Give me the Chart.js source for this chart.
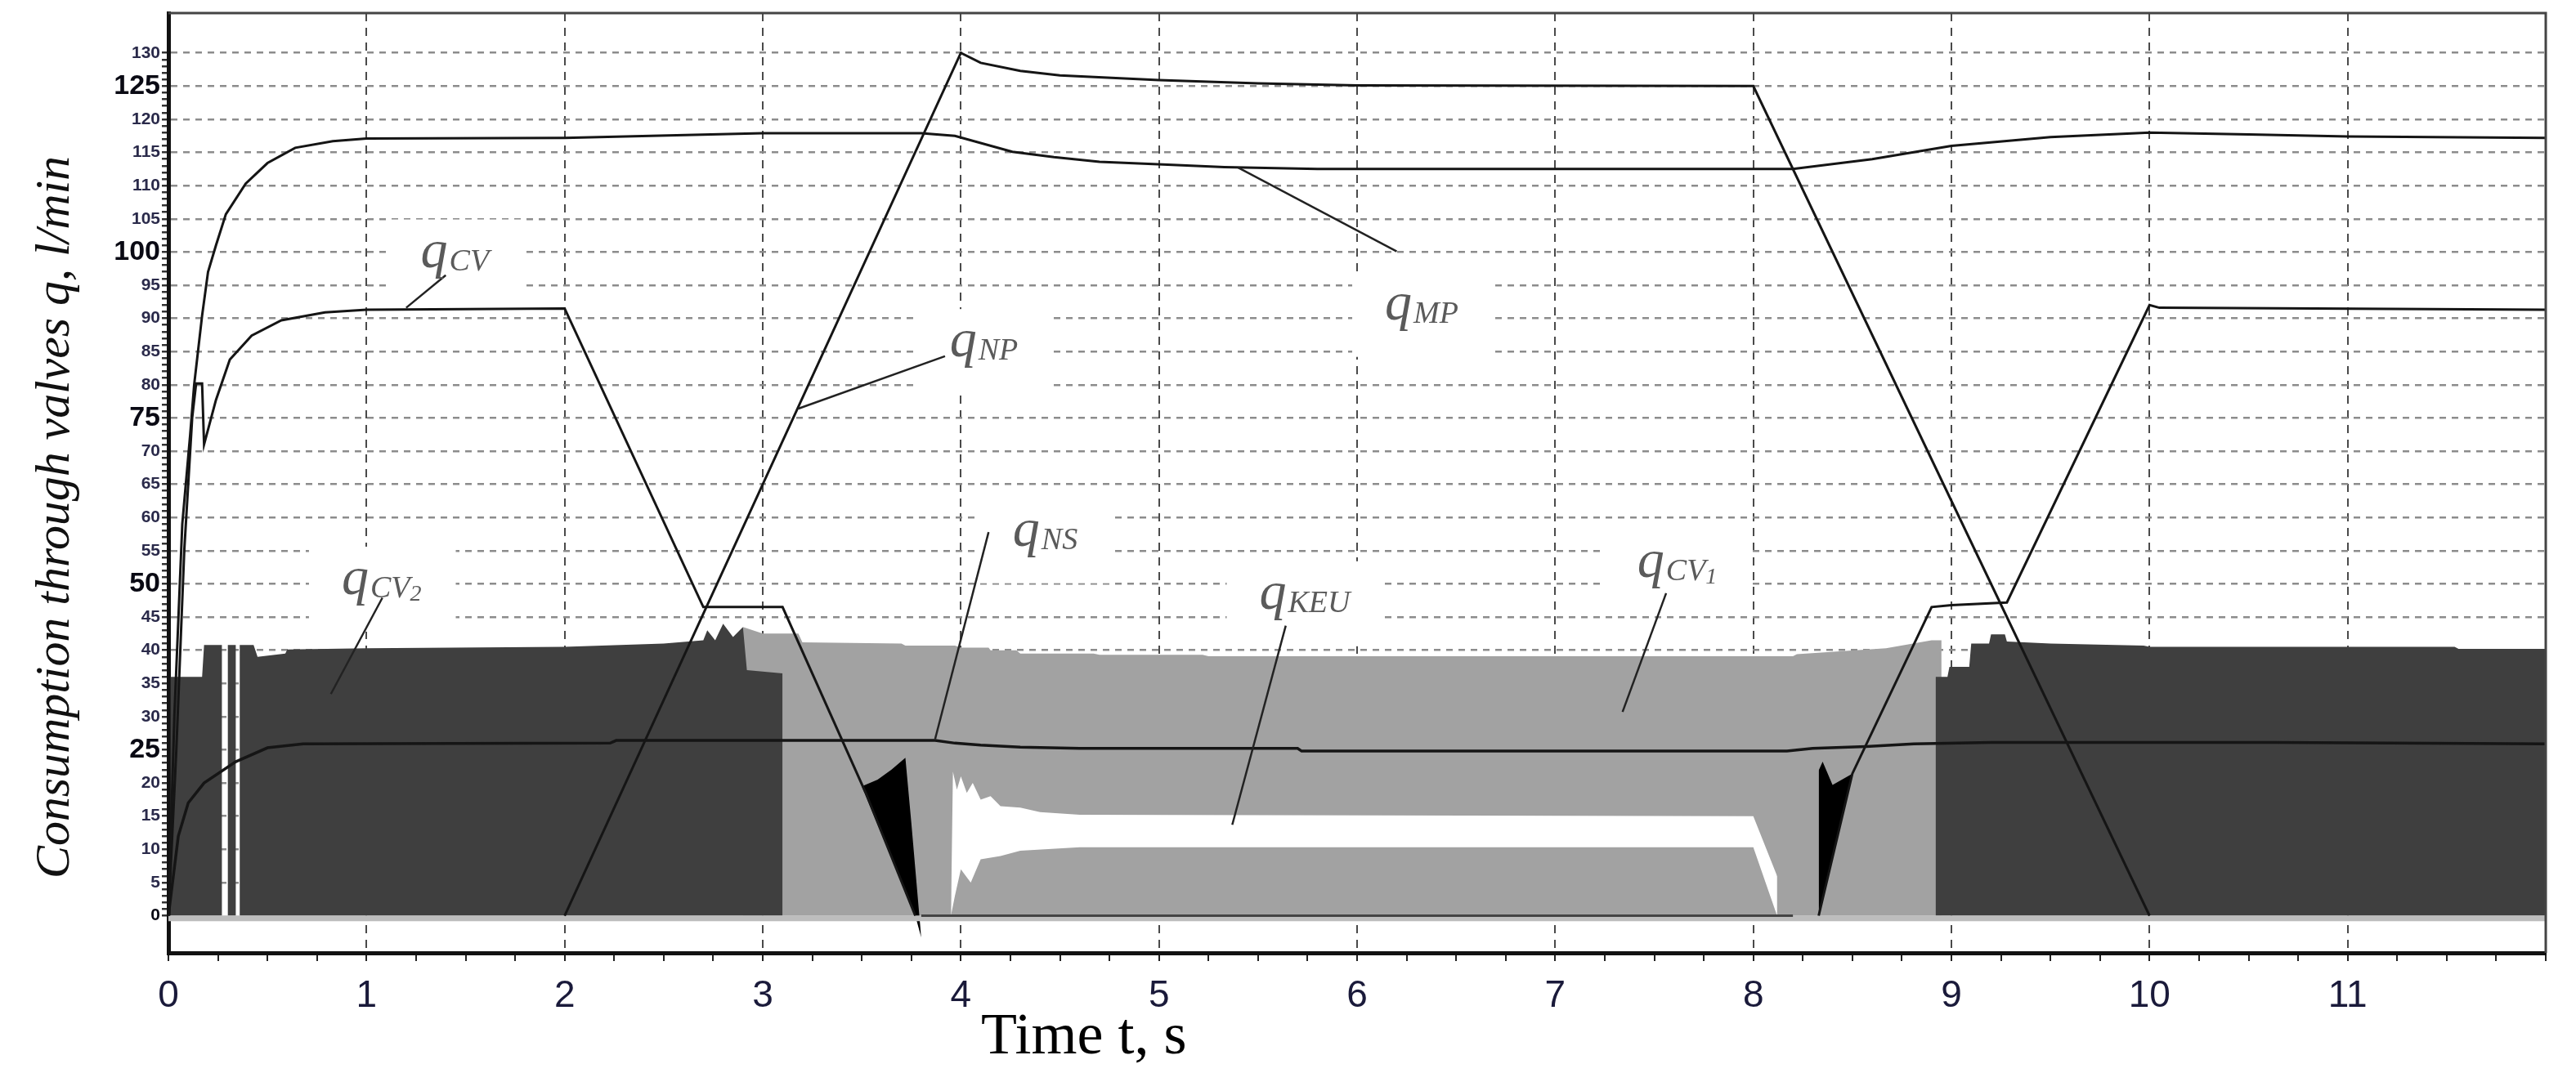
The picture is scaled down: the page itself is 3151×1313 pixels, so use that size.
<!DOCTYPE html>
<html><head><meta charset="utf-8">
<script src="https://cdn.jsdelivr.net/npm/chart.js@4"></script>
<style>html,body{margin:0;padding:0;background:#fff}canvas{display:block}</style>
</head><body>
<canvas id="c" width="3151" height="1313" style="width:3151px;height:1313px"></canvas>
<script>
// ---- data (time t, s ; flow q, l/min) ----
const mpT = [0,0.03,0.07,0.11,0.13,0.17,0.2,0.24,0.29,0.39,0.5,0.64,0.83,1.0,2.0,3.0,3.8,3.97,4.26,4.47,4.7,5.02,5.33,5.8,8.2,8.6,9.0,9.5,10.0,10.5,11.0,12];
const mpQ = [0,30,59,72.5,80,90.4,97,101,105.7,110.3,113.4,115.7,116.7,117.1,117.2,117.9,117.9,117.5,115.1,114.3,113.6,113.2,112.8,112.5,112.5,114,116,117.3,118,117.7,117.4,117.2];
const cvT = [0,0.04,0.08,0.12,0.14,0.17,0.18,0.24,0.31,0.42,0.57,0.79,1.0,2.0,2.7,3.1,3.52,3.77,6,8.33,8.5,8.9,9.0,9.28,10.0,10.05,12];
const cvQ = [0,25,55,75,80.2,80.2,71,77.7,83.8,87.4,89.7,90.9,91.3,91.5,46.5,46.5,18.5,0,null,0,21.4,46.5,46.8,47.2,92,91.6,91.3];
const npT = [2,4,4.1,4.3,4.5,5,5.5,6,8,10];
const npQ = [0,130,128.5,127.3,126.6,125.9,125.4,125.1,125,0];
const nsT = [0,0.05,0.1,0.18,0.34,0.5,0.68,2.23,2.26,3.87,3.97,4.1,4.3,4.6,5.7,5.72,8.17,8.3,8.57,8.81,9.2,10.63,12];
const nsQ = [0,12,17,20,23.2,25.3,25.9,26.0,26.4,26.4,26.0,25.7,25.4,25.2,25.2,24.8,24.8,25.2,25.5,25.9,26.1,26.1,25.9];
const cv2aT = [0.01,0.01,0.17,0.18,0.27,0.27,0.30,0.30,0.34,0.34,0.36,0.36,0.43,0.45,0.59,0.6,1.0,2.0,2.5,2.7,2.72,2.76,2.8,2.85,2.9,2.92,3.1,3.1];
const cv2aQ = [0,36,36,40.8,40.8,0,0,40.8,40.8,0,0,40.8,40.8,39,39.5,40.1,40.3,40.5,41,41.5,43,41.5,44,42,43.5,37,36.5,0];
const cv2bT = [8.92,8.92,8.98,8.99,9.09,9.1,9.19,9.2,9.27,9.28,9.5,9.97,10,11.54,11.56,12];
const cv2bQ = [0,36,36,37.5,37.5,41,41,42.4,42.4,41.3,41,40.7,40.5,40.5,40.2,40.2];
const cv1T = [2.9,2.9,3.0,3.18,3.2,3.7,3.72,3.97,4.0,4.14,4.15,4.28,4.3,4.67,4.7,5.22,5.25,8.2,8.22,8.67,8.9,8.95,8.95];
const cv1Q = [0,43.5,42.5,42.5,41.2,41,40.7,40.7,40.4,40.4,40,40,39.5,39.5,39.3,39.3,39.1,39.1,39.4,40.3,41.5,41.5,0];
const keuTopT = [3.95,3.96,3.98,4.0,4.03,4.06,4.1,4.15,4.2,4.3,4.4,4.6,8.0,8.2];
const keuTopQ = [0,21.7,19,21,18.5,20,17.5,18,16.5,16.3,15.6,15.2,15,0];
const keuBotT = [3.95,3.97,4.0,4.05,4.1,4.2,4.3,4.6,8.0,8.12];
const keuBotQ = [0,3,7,5,8.5,9,9.8,10.3,10.3,0];
const blkATopT = [3.5,3.58,3.65,3.72,3.75,3.8];
const blkATopQ = [19.5,20.5,22,23.8,14,-3.3];
const blkABotT = [3.5,3.77,3.8];
const blkABotQ = [19.5,0,-3.3];
const blkBTopT = [8.33,8.33,8.35,8.4,8.5];
const blkBTopQ = [0,21.9,23.2,19.7,21.4];
const blkBBotT = [8.33,8.5];
const blkBBotQ = [0,21.4];
const xTickLabels = ['0','1','2','3','4','5','6','7','8','9','10','11'];

const pts = (t,q) => t.map((x,i)=>({x, y:q[i]}));
const LINE = '#151515';
const base = {pointRadius:0, borderWidth:0, tension:0, spanGaps:false};
const ds = [];
function add(o){ ds.push(Object.assign({}, base, o)); return ds.length-1; }

add({data:pts(cv1T,cv1Q), fill:'origin', backgroundColor:'#a2a2a2', order:20});
add({data:pts(cv2aT,cv2aQ), fill:'origin', backgroundColor:'#3f3f3f', order:19});
add({data:pts(cv2bT,cv2bQ), fill:'origin', backgroundColor:'#3f3f3f', order:19});
const kb = add({data:pts(keuBotT,keuBotQ), order:18});
add({data:pts(keuTopT,keuTopQ), fill:{target:kb}, backgroundColor:'#ffffff', order:17});
const ba = add({data:pts(blkABotT,blkABotQ), order:16});
add({data:pts(blkATopT,blkATopQ), fill:{target:ba}, backgroundColor:'#000', order:15});
const bb = add({data:pts(blkBBotT,blkBBotQ), order:16});
add({data:pts(blkBTopT,blkBTopQ), fill:{target:bb}, backgroundColor:'#000', order:15});
add({data:[{x:0,y:-0.4},{x:12,y:-0.4}], borderWidth:7, borderColor:'#bdbdbd', order:12});
add({data:[{x:3.8,y:0},{x:8.2,y:0}], borderWidth:3, borderColor:'#444', order:11});
add({data:pts(nsT,nsQ), borderWidth:3.5, borderColor:LINE, order:5});
add({data:pts(cvT,cvQ), borderWidth:3, borderColor:LINE, order:4});
add({data:pts(mpT,mpQ), borderWidth:3, borderColor:LINE, order:3});
add({data:pts(npT,npQ), borderWidth:3, borderColor:LINE, order:2});

// annotation labels: [main, sub, subsub, cx, cy, leader x1,y1,x2,y2]
const labels = [
  ['q','CV','',1.45,98.5, 1.40,96.5,1.2,91.6],
  ['q','MP','',6.33,90.6, 6.2,100.1,5.4,112.7],
  ['q','NP','',4.12,85.0, 3.92,84.3,3.18,76.4],
  ['q','NS','',4.43,56.5, 4.14,57.8,3.87,26.6],
  ['q','KEU','',5.74,47.0, 5.64,43.7,5.37,13.7],
  ['q','CV','1',7.62,51.8, 7.56,48.6,7.34,30.7],
  ['q','CV','2',1.08,49.2, 1.08,47.9,0.82,33.4]
];
const QF = 'italic 66px "Liberation Serif", "DejaVu Serif", serif';
const SF = 'italic 38px "Liberation Serif", "DejaVu Serif", serif';
const SSF = 'italic 28px "Liberation Serif", "DejaVu Serif", serif';
function measureLabel(ctx,l){
  ctx.font=QF; const w1=ctx.measureText(l[0]).width;
  ctx.font=SF; const w2=ctx.measureText(l[1]).width;
  ctx.font=SSF; const w3=l[2]?ctx.measureText(l[2]).width:0;
  return {w1,w2,w3,w:w1+w2+w3+4};
}
const annot = {
  id:'annot',
  beforeDatasetsDraw(chart){
    const {ctx,scales:{x,y}}=chart;
    ctx.save(); ctx.fillStyle='#fff';
    labels.forEach(l=>{
      const m=measureLabel(ctx,l); const cx=x.getPixelForValue(l[3]), cy=y.getPixelForValue(l[4]);
      ctx.fillRect(cx-m.w/2-40, cy-52, m.w+80, 104);
    });
    ctx.restore();
  },
  afterDatasetsDraw(chart){
    const {ctx,scales:{x,y}}=chart;
    ctx.save();
    ctx.strokeStyle='#222'; ctx.lineWidth=2.5;
    labels.forEach(l=>{
      ctx.beginPath(); ctx.moveTo(x.getPixelForValue(l[5]),y.getPixelForValue(l[6]));
      ctx.lineTo(x.getPixelForValue(l[7]),y.getPixelForValue(l[8])); ctx.stroke();
    });
    ctx.fillStyle='#5a5a5a'; ctx.textBaseline='alphabetic'; ctx.textAlign='left';
    labels.forEach(l=>{
      const m=measureLabel(ctx,l); const cx=x.getPixelForValue(l[3]), cy=y.getPixelForValue(l[4]);
      let px=cx-m.w/2; const base=cy+6;
      ctx.font=QF; ctx.fillText(l[0],px,base); px+=m.w1+2;
      ctx.font=SF; ctx.fillText(l[1],px,base+4); px+=m.w2;
      if(l[2]){ctx.font=SSF; ctx.fillText(l[2],px,base+8);}
    });
    const a=chart.chartArea;
    ctx.strokeStyle='#444'; ctx.lineWidth=3;
    ctx.beginPath(); ctx.moveTo(a.left,a.top); ctx.lineTo(a.right,a.top); ctx.lineTo(a.right,a.bottom); ctx.stroke();
    ctx.restore();
  },
  afterDraw(chart){
    const ctx=chart.ctx; ctx.save();
    ctx.fillStyle='#000'; ctx.font='72px "Liberation Serif", serif'; ctx.textAlign='left'; ctx.textBaseline='alphabetic';
    ctx.fillText('Time t, s',1200,1289);
    const t='Consumption through valves q, l/min';
    ctx.font='italic 60px "Liberation Serif", serif';
    const w=ctx.measureText(t).width;
    ctx.translate(84,633); ctx.rotate(-Math.PI/2); ctx.scale(884/w,1);
    ctx.textAlign='center'; ctx.textBaseline='alphabetic'; ctx.fillStyle='#111';
    ctx.fillText(t,0,0);
    ctx.restore();
  }
};

const isInt = v => Math.abs(v-Math.round(v))<1e-6;
new Chart(document.getElementById('c'),{
  type:'line',
  data:{datasets:ds},
  options:{
    responsive:false, devicePixelRatio:1, animation:false,
    layout:{padding:{top:16,right:37,left:0,bottom:0}},
    plugins:{legend:{display:false},tooltip:{enabled:false}},
    scales:{
      x:{type:'linear',min:0,max:12,
        afterFit(s){s.height=147;},
        ticks:{stepSize:0.25,autoSkip:false,maxRotation:0,padding:16,color:'#1a1a3a',
          font:{size:46,family:'"Liberation Sans", Arial, sans-serif'},
          callback:(v)=> (isInt(v)&&v>=0&&v<=11)? xTickLabels[Math.round(v)] : ''},
        grid:{color:c=>{const v=c.tick&&c.tick.value; return (isInt(v)&&v>0&&v<12)?'#4a4a4a':'rgba(0,0,0,0)';},
          tickColor:c=>{const v=c.tick&&c.tick.value; return isInt(v*4)?'#222':'rgba(0,0,0,0)';},
          lineWidth:2, tickLength:10},
        border:{color:'#111',width:5,dash:[10,8]}
      },
      y:{type:'linear',min:-5.6,max:136,
        afterFit(s){s.width=206;},
        ticks:{stepSize:1,autoSkip:false,padding:2,
          color:c=>(c.tick.value%25===0)?'#0a0a14':'#2a2a4a',
          font:c=>(c.tick&&c.tick.value%25===0&&c.tick.value>0)?{size:34,weight:'bold',family:'"Liberation Sans", Arial, sans-serif'}:{size:21,weight:'bold',family:'"Liberation Sans", Arial, sans-serif'},
          callback:(v)=>(isInt(v)&&v%5===0&&v>=0&&v<=130)?String(v):''},
        grid:{color:c=>{const v=c.tick&&c.tick.value; return (isInt(v)&&v%5===0&&v>0&&v<=130)?'#8c8c8c':'rgba(0,0,0,0)';},
          tickColor:c=>{const v=c.tick&&c.tick.value; return (isInt(v)&&v>=0&&v<=130)?'#333':'rgba(0,0,0,0)';},
          lineWidth:2.5, tickLength:8},
        border:{color:'#111',width:5,dash:[8,7]}
      }
    }
  },
  plugins:[annot]
});
</script>
</body></html>
